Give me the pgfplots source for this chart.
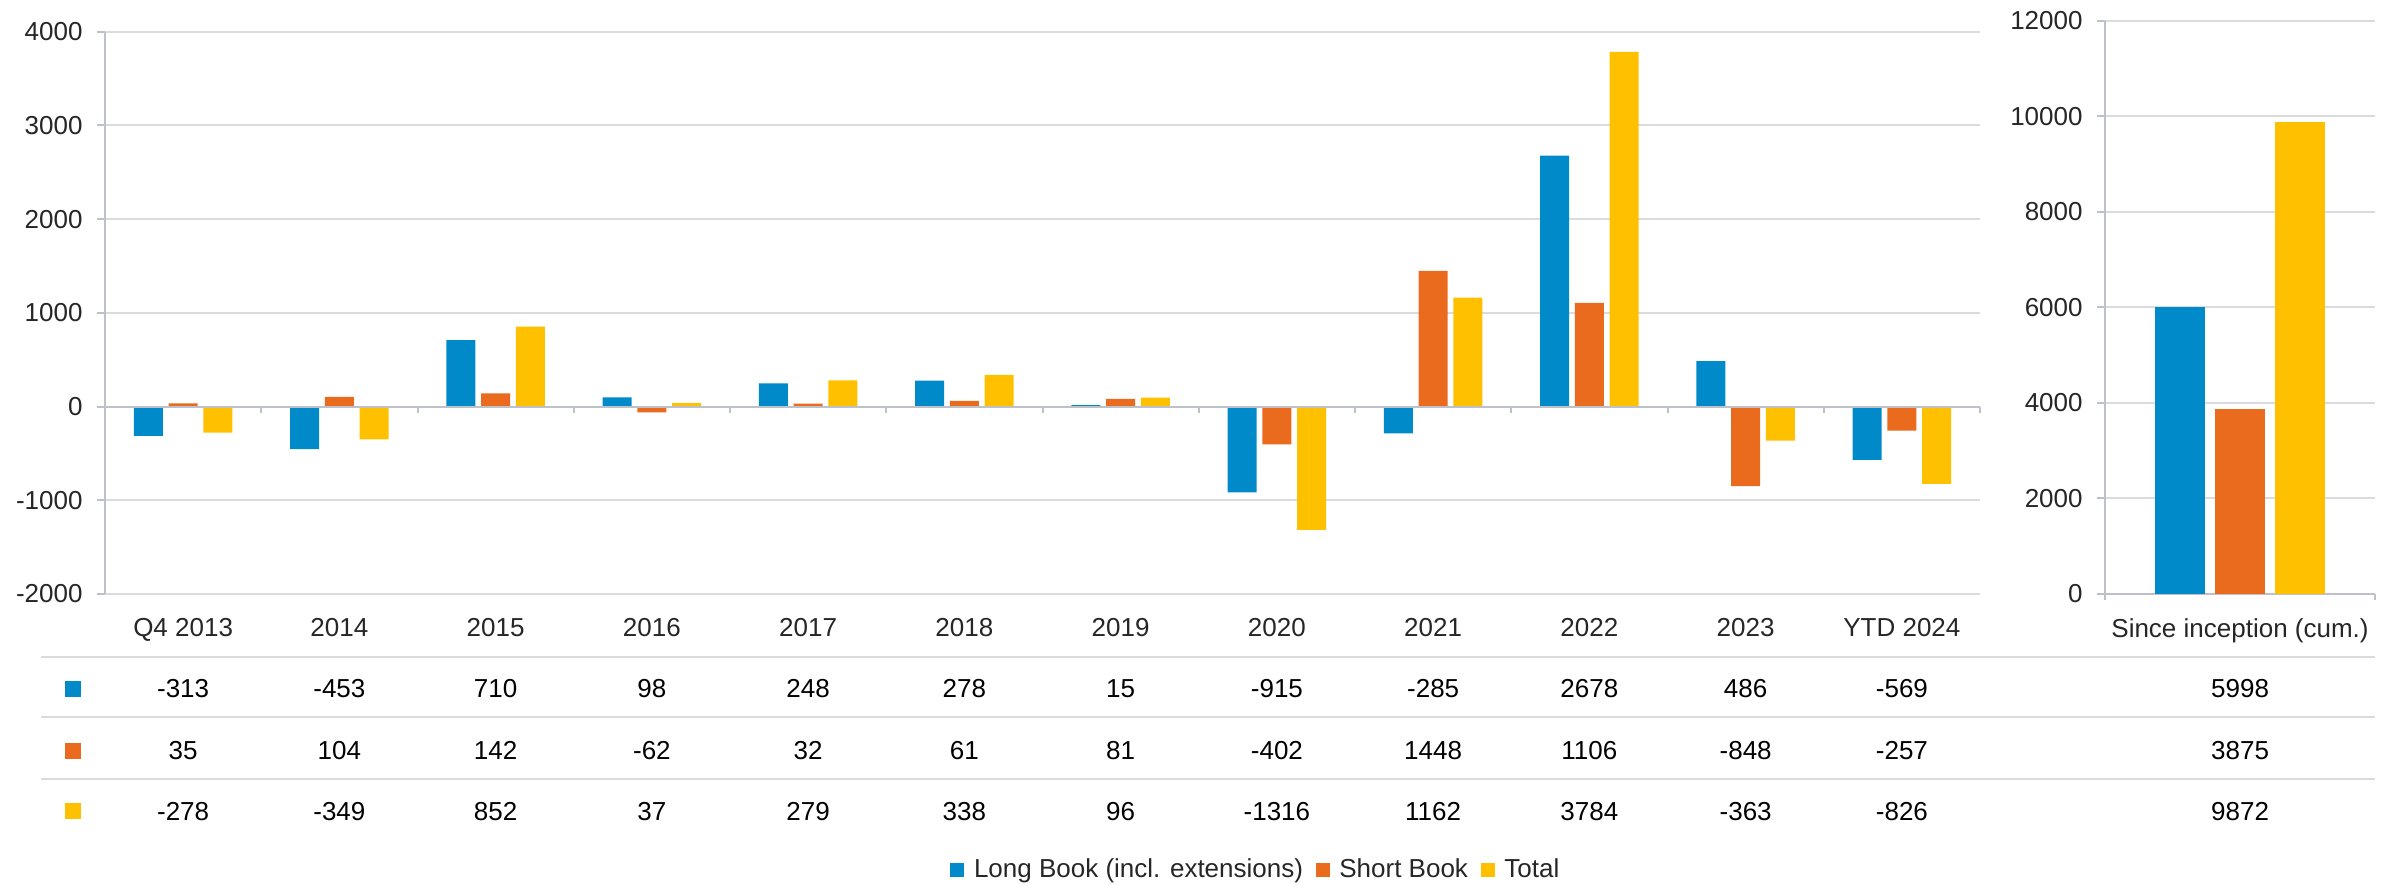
\documentclass[border=0pt]{standalone}
\usepackage{fontspec}
\setmainfont{Liberation Sans}
\usepackage{pgfplots}
\usepackage{pgfplotstable}
\pgfplotsset{compat=1.18}

\definecolor{cblue}{RGB}{0,138,201}
\definecolor{corange}{RGB}{234,106,30}
\definecolor{cyellow}{RGB}{255,192,0}
\definecolor{gridgray}{RGB}{217,219,223}
\definecolor{axisgray}{RGB}{190,194,200}
\definecolor{labelgray}{RGB}{38,38,38}

% yearly P&L contributions
\pgfplotstableread[col sep=comma]{
idx,label,long,short,total
0,Q4 2013,-313,35,-278
1,2014,-453,104,-349
2,2015,710,142,852
3,2016,98,-62,37
4,2017,248,32,279
5,2018,278,61,338
6,2019,15,81,96
7,2020,-915,-402,-1316
8,2021,-285,1448,1162
9,2022,2678,1106,3784
10,2023,486,-848,-363
11,YTD 2024,-569,-257,-826
}\yearly

\pgfplotstableread[col sep=comma]{
idx,label,long,short,total
0,Since inception (cum.),5998,3875,9872
}\cumul

\pgfplotsset{
  sq legend/.style={legend image code/.code={\fill[##1] (0pt,-2.1pt) rectangle (4.2pt,2.1pt);}},
  panel/.style={
    scale only axis, anchor=south west,
    axis x line*=bottom, axis y line*=left,
    x axis line style={draw=gridgray, line width=0.6pt},
    y axis line style={draw=axisgray, line width=0.6pt},
    ymajorgrids, grid style={draw=gridgray, line width=0.6pt},
    xtick style={draw=none},
    ytick style={draw=axisgray, line width=0.6pt},
    tick align=outside, major tick length=2.4pt,
    tick label style={font=\fontsize{7.8}{9.4}\selectfont, text=labelgray},
    yticklabel style={xshift=-0.8pt},
    xticklabel style={yshift=-1.4pt},
    scaled y ticks=false,
    /pgf/number format/assume math mode=true,
    /pgf/number format/1000 sep={},
    xtick=data, clip=false,
  },
}

\begin{document}
\begin{tikzpicture}
\useasboundingbox (0,0) rectangle (719.1pt,-265.2pt);

\begin{axis}[panel,
  at={(31.5pt,-178.2pt)}, width=562.5pt, height=168.7pt,
  xmin=-0.5, xmax=11.5, ymin=-2000, ymax=4000,
  ytick={-2000,-1000,...,4000},
  xticklabels from table={\yearly}{label},
  ybar=1.7pt, bar width=8.7pt,
  legend columns=3,
  legend style={at={(0.615,-0.491)}, anchor=center, draw=none, fill=none,
    font=\fontsize{7.8}{9.4}\selectfont, text=labelgray,
    inner sep=0pt,
    /tikz/every odd column/.append style={column sep=0.9pt},
    /tikz/every even column/.append style={column sep=1.8pt}},
]
\addplot[fill=cblue, draw=none, sq legend] table[x=idx, y=long] {\yearly};
\addplot[fill=corange, draw=none, sq legend] table[x=idx, y=short] {\yearly};
\addplot[fill=cyellow, draw=none, sq legend] table[x=idx, y=total] {\yearly};
\legend{Long Book (incl. extensions), Short Book, Total}
\draw[axisgray, line width=0.6pt] (axis cs:-0.5,0) -- (axis cs:11.5,0);
\pgfplotsinvokeforeach{0.5,1.5,...,11.5}{
  \draw[axisgray, line width=0.6pt] (axis cs:#1,0) -- ([yshift=-1.9pt]axis cs:#1,0);
}
\end{axis}

\begin{axis}[panel,
  at={(631.5pt,-178.2pt)}, width=81pt, height=172pt,
  xmin=-0.5, xmax=0.5, ymin=0, ymax=12000,
  ytick={0,2000,...,12000},
  xticklabels from table={\cumul}{label},
  x axis line style={draw=axisgray},
  ybar=3pt, bar width=15pt,
]
\addplot[fill=cblue, draw=none] table[x=idx, y=long] {\cumul};
\addplot[fill=corange, draw=none] table[x=idx, y=short] {\cumul};
\addplot[fill=cyellow, draw=none] table[x=idx, y=total] {\cumul};
\draw[axisgray, line width=0.6pt] (axis cs:-0.5,0) -- ([yshift=-1.9pt]axis cs:-0.5,0);
\draw[axisgray, line width=0.6pt] (axis cs:0.5,0) -- ([yshift=-1.9pt]axis cs:0.5,0);
\end{axis}

% data table under the chart, in reference pixel units
\begin{scope}[x=0.3pt, y=-0.3pt, font=\fontsize{7.8}{9.4}\selectfont]
\foreach \yy in {656.7,717.3,779}
  \draw[gridgray, line width=0.6pt] (41,\yy) -- (2375,\yy);
\fill[cblue] (65,680.5) rectangle (81,696.5);
\fill[corange] (65,742.5) rectangle (81,758.5);
\fill[cyellow] (65,803) rectangle (81,819);
\foreach \r in {0,...,11}{
  \pgfmathsetmacro\cx{105+156.25*(\r+0.5)}
  \pgfplotstablegetelem{\r}{long}\of\yearly
  \node[anchor=base, inner sep=0pt] at (\cx,697) {\pgfplotsretval};
  \pgfplotstablegetelem{\r}{short}\of\yearly
  \node[anchor=base, inner sep=0pt] at (\cx,759) {\pgfplotsretval};
  \pgfplotstablegetelem{\r}{total}\of\yearly
  \node[anchor=base, inner sep=0pt] at (\cx,820) {\pgfplotsretval};
}
\pgfplotstablegetelem{0}{long}\of\cumul
\node[anchor=base, inner sep=0pt] at (2240,697) {\pgfplotsretval};
\pgfplotstablegetelem{0}{short}\of\cumul
\node[anchor=base, inner sep=0pt] at (2240,759) {\pgfplotsretval};
\pgfplotstablegetelem{0}{total}\of\cumul
\node[anchor=base, inner sep=0pt] at (2240,820) {\pgfplotsretval};
\end{scope}
\end{tikzpicture}
\end{document}
